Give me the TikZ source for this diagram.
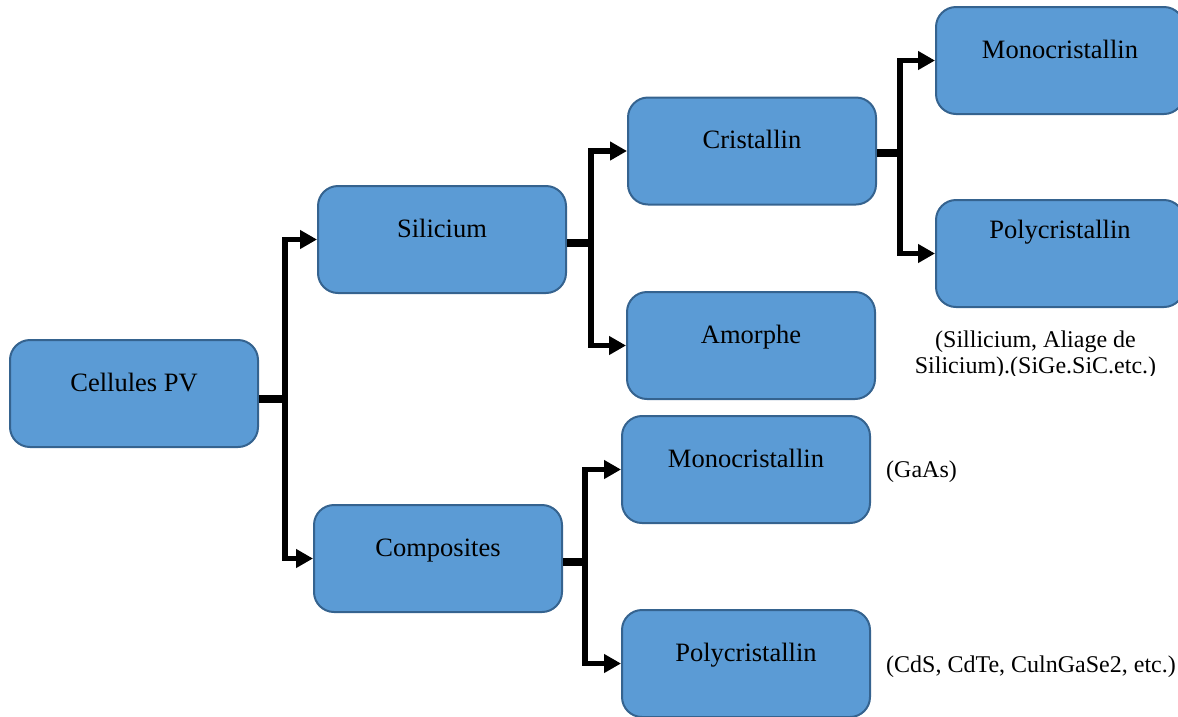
\documentclass[tikz,border=0pt]{standalone}
\usepackage{fontspec}
\setmainfont{Liberation Serif}
\usetikzlibrary{arrows.meta}
\definecolor{boxfill}{HTML}{5B9BD5}
\definecolor{boxline}{HTML}{35638F}
\tikzset{
  cellbox/.style={draw=boxline, fill=boxfill, line width=2pt, rounded corners=20pt,
    minimum width=248pt, minimum height=107pt, inner sep=0pt,
    text height=20pt, text depth=25pt, font=\fontsize{26.5}{30}\selectfont},
  stub/.style={line width=7.5pt},
  branch/.style={line width=5.5pt, line join=miter,
    -{Triangle[length=17pt 0 0, width=18pt 0 0]}},
  note/.style={inner sep=0pt, font=\fontsize{24}{26}\selectfont, align=center}
}
\begin{document}
\begin{tikzpicture}[x=1pt, y=-1pt]
\useasboundingbox (0,0) rectangle (1178,716);

% classification boxes
\node[cellbox] (cell)  at (134, 393.5) {Cellules PV};
\node[cellbox] (sil)   at (442, 239.5) {Silicium};
\node[cellbox] (comp)  at (438, 558.5) {Composites};
\node[cellbox] (cris)  at (752, 151)   {Cristallin};
\node[cellbox] (amor)  at (751, 345.5) {Amorphe};
\node[cellbox] (monoA) at (1060, 60.5) {Monocristallin};
\node[cellbox, text depth=51pt] (polyA) at (1060, 253.5) {Polycristallin};
\node[cellbox] (monoB) at (746, 469.5) {Monocristallin};
\node[cellbox] (polyB) at (746, 663.5) {Polycristallin};

% branching points
\coordinate (jcell) at (285, 399);
\coordinate (jsil)  at (591, 243);
\coordinate (jcris) at (900, 153);
\coordinate (jcomp) at (585, 562);

% Cellules PV -> Silicium / Composites
\draw[stub] (cell.east |- jcell) -- ([xshift=2pt]jcell);
\draw[branch] (jcell) |- (sil.west);
\draw[branch] (jcell) |- (comp.west);

% Silicium -> Cristallin / Amorphe
\draw[stub] (sil.east |- jsil) -- ([xshift=2pt]jsil);
\draw[branch] (jsil) |- (cris.west);
\draw[branch] (jsil) |- (amor.west);

% Cristallin -> Monocristallin / Polycristallin
\draw[stub] (cris.east |- jcris) -- ([xshift=2pt]jcris);
\draw[branch] (jcris) |- (monoA.west);
\draw[branch] (jcris) |- (polyA.west);

% Composites -> Monocristallin / Polycristallin
\draw[stub] (comp.east |- jcomp) -- ([xshift=2pt]jcomp);
\draw[branch] (jcomp) |- (monoB.west);
\draw[branch] (jcomp) |- (polyB.west);

% material examples
\begin{scope}
  \clip (880,320) rectangle (1178,375);
  \node[note, anchor=base] (silnote) at (1035.5,373)
    {(Sillicium, Aliage de\\Silicium).(SiGe.SiC.etc.)};
\end{scope}
\node[note, anchor=base west] (gaas) at (886,477) {(GaAs)};
\node[note, anchor=base west] (cds)  at (886,672) {(CdS, CdTe, CulnGaSe2, etc.)};
\end{tikzpicture}
\end{document}
